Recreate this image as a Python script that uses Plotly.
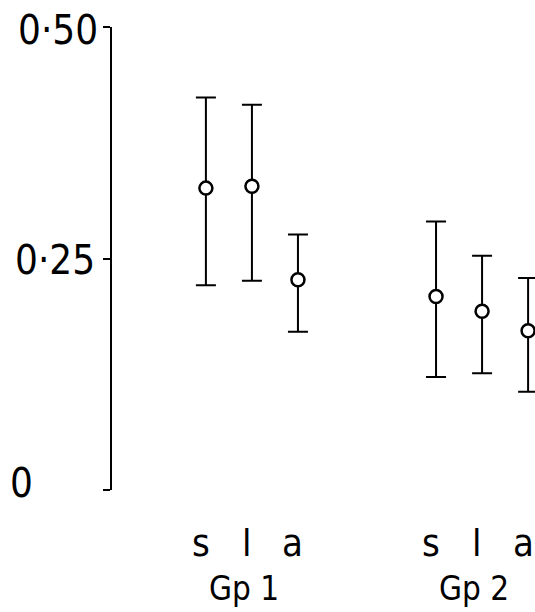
import plotly.graph_objects as go

# ---- data ----
conditions = ["s", "l", "a"]
groups = ["Gp 1", "Gp 2"]
positions = [1, 2, 3, 6, 7, 8]
cond_labels = ["s", "l", "a", "s", "l", "a"]
means = [0.326, 0.328, 0.227, 0.209, 0.193, 0.172]
upper = [0.424, 0.416, 0.276, 0.290, 0.253, 0.229]
lower = [0.221, 0.226, 0.171, 0.122, 0.126, 0.106]
y_tick_vals = [0.5, 0.25, 0]
y_tick_text = ["0\u00b750", "0\u00b725", "0"]

err_plus = [u - m for u, m in zip(upper, means)]
err_minus = [m - l for m, l in zip(means, lower)]

FONT = "DejaVu Sans Condensed, DejaVu Sans, sans-serif"

fig = go.Figure()
fig.add_trace(go.Scatter(
    x=positions, y=means, mode="markers",
    marker=dict(symbol="circle", size=13, color="white",
                line=dict(color="black", width=2.5)),
    error_y=dict(type="data", symmetric=False, array=err_plus,
                 arrayminus=err_minus, color="black", thickness=2, width=10),
    cliponaxis=False, showlegend=False, hoverinfo="skip",
))

annotations = []
# y tick labels (placed as text beside the axis)
ytl_x = [-0.028, -0.035, -0.246]
ytl_anchor = ["right", "right", "left"]
ytl_shift = [-3, -1, 7]
for v, t, xp, an, sh in zip(y_tick_vals, y_tick_text, ytl_x, ytl_anchor, ytl_shift):
    annotations.append(dict(x=xp, xref="paper", y=v, yref="y", text=t,
                            showarrow=False, xanchor=an, yanchor="middle",
                            yshift=sh, font=dict(size=40, family=FONT, color="black")))
# condition labels
for p, c in zip(positions, cond_labels):
    annotations.append(dict(x=p, xref="x", y=-0.1145, yref="paper", text=c,
                            showarrow=False, xanchor="center", yanchor="middle",
                            xshift=-5, font=dict(size=38, family=FONT, color="black")))
# group labels
for gi, g in enumerate(groups):
    mid = sum(positions[gi * 3:gi * 3 + 3]) / 3
    annotations.append(dict(x=mid, xref="x", y=-0.2117, yref="paper", text=g,
                            showarrow=False, xanchor="center", yanchor="middle",
                            xshift=-8, font=dict(size=33, family=FONT, color="black")))

fig.update_layout(
    width=535, height=612,
    margin=dict(l=112, r=0, t=27, b=122),
    paper_bgcolor="white", plot_bgcolor="white",
    xaxis=dict(range=[-1.04, 8.15], visible=False),
    yaxis=dict(range=[0, 0.5], showline=True, linecolor="black", linewidth=2,
               ticks="outside", ticklen=7, tickwidth=2, tickcolor="black",
               tickvals=y_tick_vals, showticklabels=False, showgrid=False,
               zeroline=False),
    annotations=annotations,
)

fig.write_html(
    "out.html",
    config={"displayModeBar": False},
    post_script="document.body.style.margin='0';document.body.style.overflow='hidden';",
)
